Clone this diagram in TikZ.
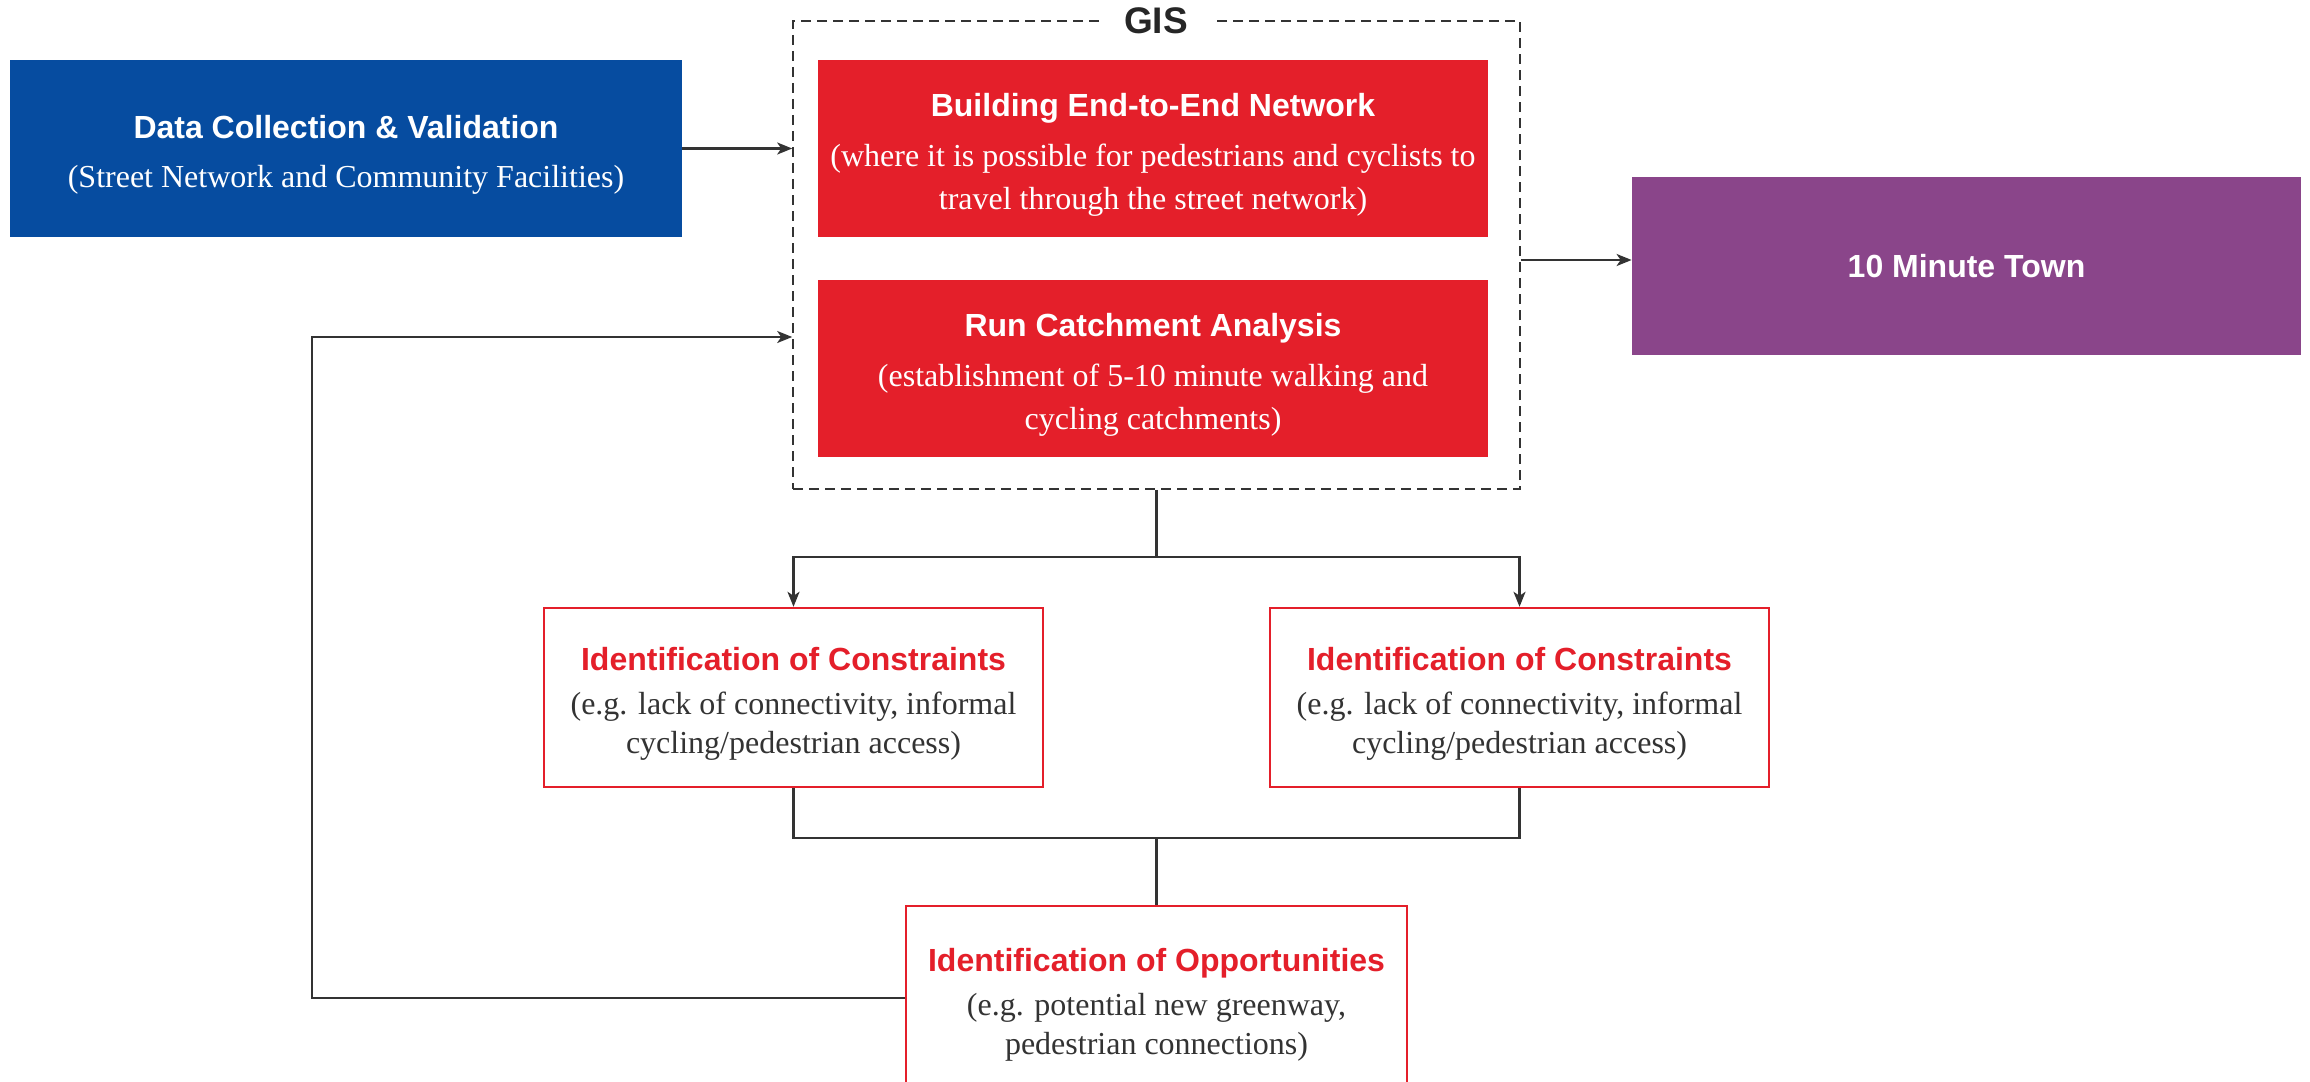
\documentclass[tikz,border=0pt]{standalone}
\usepackage{fontspec}
\setmainfont{Liberation Serif}
\setsansfont{Liberation Sans}
\usetikzlibrary{arrows.meta}
\definecolor{cblue}{HTML}{064CA0}
\definecolor{cred}{HTML}{E41F2A}
\definecolor{cpurple}{HTML}{8A458A}
\definecolor{cline}{HTML}{333333}
\definecolor{ctext}{HTML}{333333}
\newcommand{\ttl}[1]{{\sffamily\bfseries\fontsize{16}{21.5}\selectfont #1}}
\newcommand{\ttlb}[1]{{\sffamily\bfseries\fontsize{16}{21.5}\selectfont\rule{0pt}{18pt}#1}}
\tikzset{
  x=0.5pt, y=-0.5pt,
  boxbase/.style={rectangle, inner sep=0pt, align=center,
    font=\fontsize{16}{21.3}\selectfont},
  filledbox/.style={boxbase, fill=#1, text=white, minimum width=335pt, minimum height=88.5pt},
  outlinebox/.style={boxbase, font=\fontsize{16}{19.5}\selectfont, draw=cred, line width=1.2pt,
    fill=white, text=ctext, minimum width=249.5pt, minimum height=89.5pt},
  gisbox/.style={rectangle, draw=cline, dashed, dash pattern=on 5pt off 3pt, line width=0.8pt,
    minimum width=363.5pt, minimum height=234pt, inner sep=0pt},
  conn/.style={draw=cline, line width=1.1pt},
  arr/.style={conn, -{Stealth[length=7.5pt,width=6pt,inset=2pt]}},
}
\begin{document}
\begin{tikzpicture}
\useasboundingbox (0,0) rectangle (2310,1081);

% GIS group
\node[gisbox] (gis) at (1156.5,255) {};
\node[fill=white, inner xsep=12pt, inner ysep=2pt, text=black!85,
      font=\sffamily\bfseries\fontsize{18.5}{22}\selectfont] (gislabel) at (1156,21) {GIS};

\node[filledbox=cblue, minimum width=336pt] (data) at (346,148.5)
  {\ttlb{Data Collection \& Validation}\\[3pt](Street Network and Community Facilities)};
\node[filledbox=cred] (net) at (1153,148.5)
  {\ttlb{Building End-to-End Network}\\[3.5pt](where it is possible for pedestrians and cyclists to\\travel through the street network)};
\node[filledbox=cred] (catch) at (1153,368.5)
  {\ttlb{Run Catchment Analysis}\\[3.5pt](establishment of 5-10 minute walking and\\cycling catchments)};
\node[filledbox=cpurple, minimum width=334.5pt, minimum height=89pt] (town) at (1966.5,266)
  {\ttl{10 Minute Town}};

\node[outlinebox] (con1) at (793.5,697.5)
  {\textcolor{cred}{\ttlb{Identification of Constraints}}\\[2.5pt](e.g. lack of connectivity, informal\\cycling/pedestrian access)};
\node[outlinebox] (con2) at (1519.5,697.5)
  {\textcolor{cred}{\ttlb{Identification of Constraints}}\\[2.5pt](e.g. lack of connectivity, informal\\cycling/pedestrian access)};
\node[outlinebox, minimum width=250.5pt, minimum height=92pt] (opp) at (1156.5,998)
  {\textcolor{cred}{\ttlb{Identification of Opportunities}}\\[2.5pt](e.g. potential new greenway,\\pedestrian connections)};

% connectors
\draw[arr] (data.east) -- (data.east -| gis.west);
\coordinate (gt) at ([yshift=-2.5pt]gis.east);
\draw[arr] (gt) -- (gt -| town.west);

\coordinate (split) at (1156.5,557);
\draw[conn] (gis.south) -- (split);
\draw[arr] (split) -| (con1.north);
\draw[arr] (split) -| (con2.north);

\coordinate (merge) at (1156.5,838);
\draw[conn] (con1.south) |- (merge);
\draw[conn] (con2.south) |- (merge);
\draw[conn] (merge) -- (opp.north);

\coordinate (fb) at (312,337);
\draw[arr] (opp.west) -| (fb) -- (fb -| gis.west);
\end{tikzpicture}
\end{document}
